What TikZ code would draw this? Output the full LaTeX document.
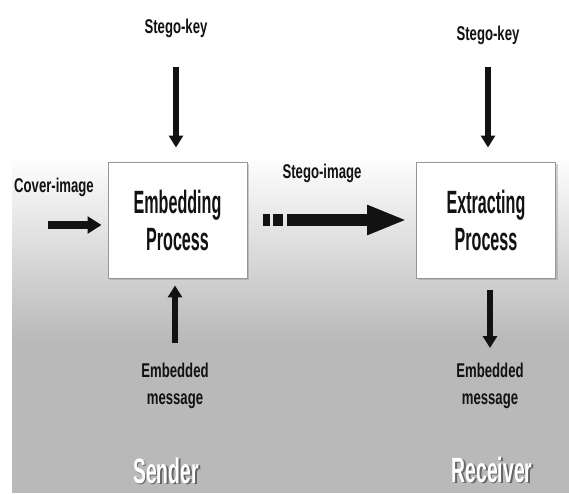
\documentclass[tikz,border=0pt]{standalone}
\usepackage{fontspec}
\usepackage{tikz}
\usetikzlibrary{arrows.meta, shadows}
\setmainfont{Liberation Sans}
\newfontfamily\labelfont[FakeStretch=0.66]{Liberation Sans}
\newfontfamily\procfont[FakeStretch=0.5]{Liberation Sans}
\newfontfamily\rolefont[FakeStretch=0.55]{Liberation Sans}
\definecolor{BgGray}{RGB}{185, 185, 185}
\definecolor{InkDark}{RGB}{18, 18, 18}
\definecolor{EdgeGray}{RGB}{150, 150, 150}

\begin{document}
\begin{tikzpicture}[x=0.03cm, y=-0.03cm,
      process/.style={rectangle, draw=EdgeGray, line width=0.8pt, fill=white, minimum width=4.17cm, minimum height=3.48cm, align=center, text=InkDark, font=\procfont\bfseries\fontsize{27.5}{31.6}\selectfont, drop shadow={shadow xshift=2pt, shadow yshift=-2pt, opacity=0.35}},
      tag/.style={inner sep=0pt, align=center, text=InkDark, font=\labelfont\bfseries\fontsize{17}{22.5}\selectfont},
      role/.style={inner sep=0pt, anchor=base, font=\rolefont\bfseries\fontsize{30}{34}\selectfont},
      vert/.style={line width=4.3pt, draw=InkDark, -{Triangle[length=0.36cm, width=0.42cm]}},
      coverarrow/.style={line width=6pt, draw=InkDark, -{Triangle[length=0.42cm, width=0.5cm]}},
      stegoarrow/.style={line width=10pt, draw=InkDark, dash pattern=on 0.21cm off 0.09cm on 0.3cm off 0.12cm on 20cm, -{Triangle[length=1.2cm, width=0.82cm]}}
    ]
      \useasboundingbox (0,0) rectangle (569,493);
      % background
      \fill[white] (0,0) rectangle (569,493);
      \shade[top color=white, bottom color=BgGray] (12,155) rectangle (569,341);
      \fill[BgGray] (12,340) rectangle (569,493);

      \node[process] (embed) at (177.5,220) {Embedding\\Process};
      \node[process] (extract) at (486,220) {Extracting\\Process};

      \node[tag, anchor=base] (key1) at (176,33) {Stego-key};
      \node[tag, anchor=base] (key2) at (488,40) {Stego-key};
      \node[tag, anchor=base] (cover) at (54,192) {Cover-image};
      \node[tag, anchor=base] (stego) at (322,178) {Stego-image};
      \node[tag, anchor=north] (msg1) at (175,363) {Embedded\\message};
      \node[tag, anchor=north] (msg2) at (490,363) {Embedded\\message};
      \coordinate (coverin) at (48,225);

      \node[role] (sender) at (166,483) {\makebox[0pt][l]{\hspace{1.5pt}\raisebox{-1.5pt}{\textcolor{gray!80!black}{Sender}}}\textcolor{white}{Sender}};
      \node[role] (receiver) at (492,482) {\makebox[0pt][l]{\hspace{1.5pt}\raisebox{-1.5pt}{\textcolor{gray!80!black}{Receiver}}}\textcolor{white}{Receiver}};

      \draw[vert, shorten <=0.9cm, shorten >=0.42cm] (key1.south) -- (key1.south |- embed.north);
      \draw[vert, shorten <=0.69cm, shorten >=0.42cm] (key2.south) -- (key2.south |- extract.north);
      \draw[coverarrow, shorten >=0.18cm] (coverin) -- (coverin -| embed.west);
      \draw[stegoarrow, shorten <=0.48cm, shorten >=0.27cm] (embed.east) -- (extract.west);
      \draw[vert, shorten <=0.6cm, shorten >=0.21cm] (msg1.north) -- (msg1.north |- embed.south);
      \draw[vert, shorten <=0.36cm, shorten >=0.45cm] (msg2.north |- extract.south) -- (msg2.north);
    \end{tikzpicture}
\end{document}
